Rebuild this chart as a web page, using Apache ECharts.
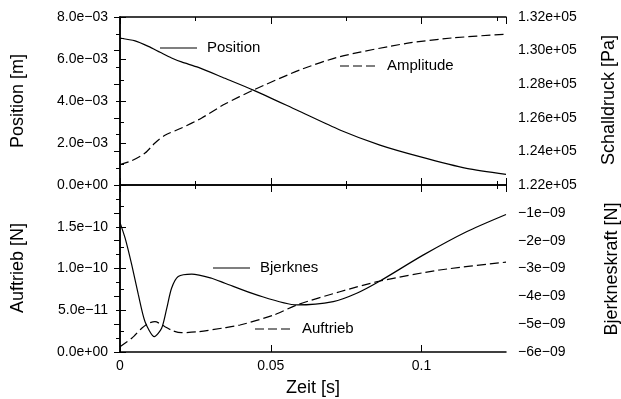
<!DOCTYPE html>
<html>
<head>
<meta charset="utf-8">
<script src="https://cdn.jsdelivr.net/npm/echarts@6/dist/echarts.min.js"></script>
<style>
  html, body { margin: 0; padding: 0; background: #fff; }
  #chart { width: 621px; height: 399px; }
</style>
</head>
<body>
<div id="chart"></div>
<script>
// top panel: Position [m] (left) and Schalldruck amplitude [Pa] (right)
const posTime = [0, 0.005, 0.0094, 0.0133, 0.0171, 0.0204, 0.026, 0.0348, 0.0442, 0.0586, 0.0729, 0.0862, 0.0994, 0.1149, 0.128];
const posValue = [7.00e-3, 6.86e-3, 6.60e-3, 6.32e-3, 6.05e-3, 5.86e-3, 5.60e-3, 5.08e-3, 4.52e-3, 3.57e-3, 2.62e-3, 1.90e-3, 1.35e-3, 0.79e-3, 0.51e-3];

const ampTime = [0, 0.0039, 0.0083, 0.0116, 0.0149, 0.0204, 0.0271, 0.0348, 0.0442, 0.0597, 0.0729, 0.095, 0.11, 0.128];
const ampValue = [123210, 123450, 123900, 124500, 124960, 125390, 125990, 126820, 127650, 128850, 129640, 130430, 130750, 130980];

// bottom panel: Auftrieb [N] (left) and Bjerkneskraft [N] (right)
const bjTime = [0, 0.0017, 0.0039, 0.0061, 0.0083, 0.0114, 0.0138, 0.0155, 0.0171, 0.0193, 0.0238, 0.0304, 0.0348, 0.0453, 0.0586, 0.0707, 0.0785, 0.0862, 0.1005, 0.1149, 0.128];
const bjValue = [-1.35e-9, -1.91e-9, -2.87e-9, -3.95e-9, -4.91e-9, -5.45e-9, -5.15e-9, -4.43e-9, -3.71e-9, -3.29e-9, -3.20e-9, -3.35e-9, -3.53e-9, -3.95e-9, -4.31e-9, -4.19e-9, -3.89e-9, -3.45e-9, -2.52e-9, -1.68e-9, -1.06e-9];

const aufTime = [0, 0.0039, 0.0072, 0.0094, 0.0116, 0.0149, 0.0177, 0.0204, 0.026, 0.0348, 0.0398, 0.0508, 0.0586, 0.0729, 0.0862, 0.106, 0.128];
const aufValue = [0.63e-11, 1.64e-11, 2.84e-11, 3.44e-11, 3.63e-11, 3.03e-11, 2.51e-11, 2.31e-11, 2.43e-11, 2.91e-11, 3.23e-11, 4.4e-11, 5.63e-11, 7.22e-11, 8.50e-11, 9.82e-11, 10.76e-11];

const timeTicks = { min: 0, max: 0.128, major: 0.05, minor: 0.025 };

const FONT = "Liberation Sans";

function pairs(xs, ys) {
  return xs.map((x, i) => [x, ys[i]]);
}

// 8.0e-03 style labels with a real minus sign
function sci(v, digits) {
  let parts = v.toExponential(digits).split("e");
  let n = parseInt(parts[1], 10);
  let exp = (n < 0 ? "\u2212" : "+") + String(Math.abs(n)).padStart(2, "0");
  return parts[0].replace("-", "\u2212") + "e" + exp;
}

function timeAxis(grid, position, interval, tickLen, showLine, showLabel) {
  return {
    type: "value",
    gridIndex: grid,
    position: position,
    min: timeTicks.min,
    max: timeTicks.max,
    interval: interval,
    axisLine: { show: showLine, lineStyle: { color: "#000", width: 1.5 } },
    axisTick: { show: true, inside: true, length: tickLen, lineStyle: { color: "#000", width: 1 } },
    axisLabel: {
      show: showLabel,
      showMaxLabel: false,
      margin: 7,
      color: "#000",
      fontFamily: FONT,
      fontSize: 14
    },
    splitLine: { show: false }
  };
}

function valueAxis(grid, position, min, max, interval, fmt, hideMax) {
  return {
    type: "value",
    gridIndex: grid,
    position: position,
    min: min,
    max: max,
    interval: interval,
    axisLine: { show: true, lineStyle: { color: "#000", width: 1.5 } },
    axisTick: { show: true, inside: true, length: 6, lineStyle: { color: "#000", width: 1 } },
    minorTick: { show: true, splitNumber: 2, length: 4, lineStyle: { color: "#000", width: 1 } },
    axisLabel: {
      formatter: fmt,
      showMaxLabel: !hideMax,
      margin: 12,
      color: "#000",
      fontFamily: FONT,
      fontSize: 14
    },
    splitLine: { show: false }
  };
}

function legendItem(x, y, label, dashed) {
  return [
    {
      type: "line",
      shape: { x1: x, y1: y, x2: x + 37, y2: y },
      style: { stroke: "#000", lineWidth: 1.2, lineDash: dashed ? [9, 4] : null }
    },
    {
      type: "text",
      x: x + 47,
      y: y,
      style: { text: label, fill: "#000", fontFamily: FONT, fontSize: 15, verticalAlign: "middle" }
    }
  ];
}

function yTitle(x, y, label) {
  return {
    type: "text",
    x: x,
    y: y,
    rotation: Math.PI / 2,
    style: { text: label, fill: "#000", fontFamily: FONT, fontSize: 18, align: "center", verticalAlign: "middle" }
  };
}

let chart = echarts.init(document.getElementById("chart"), null, { renderer: "canvas" });

let lineSeries = (name, xi, yi, data, dashed) => ({
  name: name,
  type: "line",
  xAxisIndex: xi,
  yAxisIndex: yi,
  data: data,
  showSymbol: false,
  symbol: "none",
  smooth: 0.25,
  animation: false,
  lineStyle: { color: "#000", width: 1.2, type: dashed ? [9, 4] : "solid" }
});

let option = {
  backgroundColor: "#fff",
  animation: false,
  grid: [
    { left: 120, right: 115, top: 17, height: 168, show: false },
    { left: 120, right: 115, top: 185, height: 167, show: false }
  ],
  xAxis: [
    timeAxis(0, "bottom", timeTicks.major, 7, true, false),
    timeAxis(0, "bottom", timeTicks.minor, 4, false, false),
    timeAxis(0, "top", timeTicks.major, 7, true, false),
    timeAxis(0, "top", timeTicks.minor, 4, false, false),
    Object.assign(timeAxis(1, "bottom", timeTicks.major, 7, true, true), {
      name: "Zeit [s]",
      nameLocation: "middle",
      nameGap: 27,
      nameTextStyle: { color: "#000", fontFamily: FONT, fontSize: 18 }
    }),
    timeAxis(1, "bottom", timeTicks.minor, 4, false, false),
    timeAxis(1, "top", timeTicks.major, 7, true, false),
    timeAxis(1, "top", timeTicks.minor, 4, false, false)
  ],
  yAxis: [
    valueAxis(0, "left", 0, 0.008, 0.002, v => sci(v, 1), false),
    valueAxis(0, "right", 122000, 132000, 2000, v => sci(v, 2), false),
    valueAxis(1, "left", 0, 2e-10, 5e-11, v => sci(v, 1), true),
    valueAxis(1, "right", -6e-9, 0, 1e-9, v => sci(v, 0), true)
  ],
  series: [
    lineSeries("Position", 0, 0, pairs(posTime, posValue), false),
    lineSeries("Amplitude", 0, 1, pairs(ampTime, ampValue), true),
    lineSeries("Bjerknes", 4, 3, pairs(bjTime, bjValue), false),
    lineSeries("Auftrieb", 4, 2, pairs(aufTime, aufValue), true)
  ],
  graphic: [
    ...legendItem(160, 48, "Position", false),
    ...legendItem(340, 66, "Amplitude", true),
    ...legendItem(213, 268, "Bjerknes", false),
    ...legendItem(255, 329, "Auftrieb", true),
    yTitle(18, 101, "Position [m]"),
    yTitle(609, 100, "Schalldruck [Pa]"),
    yTitle(18, 268, "Auftrieb [N]"),
    yTitle(612, 269, "Bjerkneskraft [N]")
  ]
};

chart.setOption(option);
</script>
</body>
</html>
